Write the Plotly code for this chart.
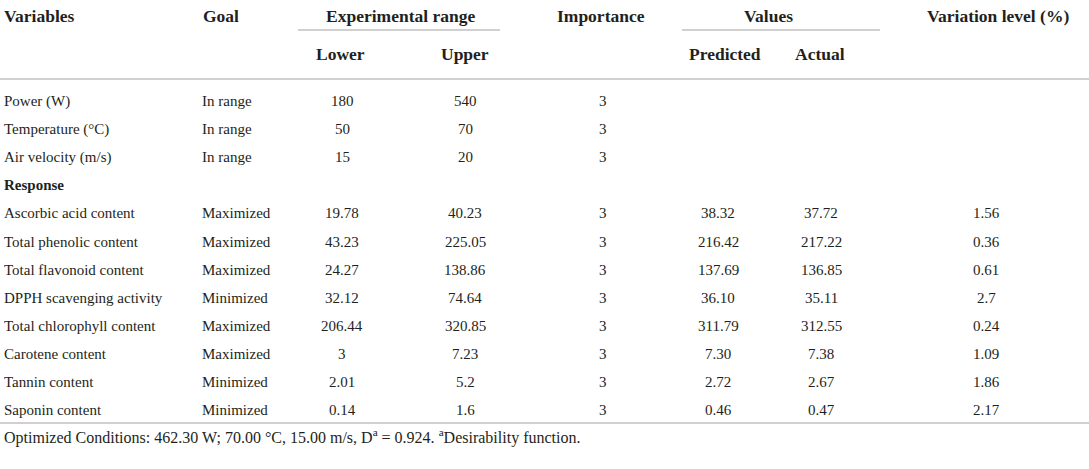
import plotly.graph_objects as go

W, H = 1089, 469

variables = [
    "Power (W)", "Temperature (°C)", "Air velocity (m/s)", "Response",
    "Ascorbic acid content", "Total phenolic content", "Total flavonoid content",
    "DPPH scavenging activity", "Total chlorophyll content", "Carotene content",
    "Tannin content", "Saponin content",
]
goals = [
    "In range", "In range", "In range", "",
    "Maximized", "Maximized", "Maximized", "Minimized",
    "Maximized", "Maximized", "Minimized", "Minimized",
]
lower = ["180", "50", "15", "", "19.78", "43.23", "24.27", "32.12",
         "206.44", "3", "2.01", "0.14"]
upper = ["540", "70", "20", "", "40.23", "225.05", "138.86", "74.64",
         "320.85", "7.23", "5.2", "1.6"]
importance = ["3", "3", "3", "", "3", "3", "3", "3", "3", "3", "3", "3"]
predicted = ["", "", "", "", "38.32", "216.42", "137.69", "36.10",
             "311.79", "7.30", "2.72", "0.46"]
actual = ["", "", "", "", "37.72", "217.22", "136.85", "35.11",
          "312.55", "7.38", "2.67", "0.47"]
variation = ["", "", "", "", "1.56", "0.36", "0.61", "2.7",
             "0.24", "1.09", "1.86", "2.17"]

footer = ("Optimized Conditions: 462.30 W; 70.00 °C, 15.00 m/s, "
          "D<sup>a</sup> = 0.924. <sup>a</sup>Desirability function.")

TEXT = "#231f20"
LINE = "#d0d0d0"
SERIF = "Liberation Serif, Times New Roman, serif"
BODY = dict(family=SERIF, size=15, color=TEXT)
HEAD = dict(family=SERIF, size=17.5, color=TEXT)

# column anchors: (values, x, xanchor)
columns = [
    (variables, 2, "left"),
    (goals, 200, "left"),
    (lower, 342, "center"),
    (upper, 465, "center"),
    (importance, 603, "center"),
    (predicted, 718, "center"),
    (actual, 821, "center"),
    (variation, 986, "center"),
]

row_y0, row_step = 101, 28.1

fig = go.Figure()
ann = []

for values, x, anchor in columns:
    for i, v in enumerate(values):
        if not v:
            continue
        bold = values is variables and v == "Response"
        ann.append(dict(
            x=x, y=row_y0 + i * row_step, text=f"<b>{v}</b>" if bold else v,
            xanchor=anchor, yanchor="middle", showarrow=False, font=BODY,
        ))

headers_top = [
    ("Variables", 2, "left"),
    ("Goal", 201, "left"),
    ("Experimental range", 400, "center"),
    ("Importance", 601, "center"),
    ("Values", 768, "center"),
    ("Variation level (%)", 998, "center"),
]
headers_sub = [
    ("Lower", 340, "center"),
    ("Upper", 465, "center"),
    ("Predicted", 725, "center"),
    ("Actual", 820, "center"),
]
for txt, x, anchor in headers_top:
    ann.append(dict(x=x, y=16, text=f"<b>{txt}</b>", xanchor=anchor,
                    yanchor="middle", showarrow=False, font=HEAD))
for txt, x, anchor in headers_sub:
    ann.append(dict(x=x, y=54, text=f"<b>{txt}</b>", xanchor=anchor,
                    yanchor="middle", showarrow=False, font=HEAD))

ann.append(dict(x=2, y=436, text=footer, xanchor="left", yanchor="middle",
                showarrow=False, font=dict(BODY, size=16)))

shapes = [
    dict(type="line", x0=298, x1=500, y0=30, y1=30, line=dict(color=LINE, width=2)),
    dict(type="line", x0=682, x1=880, y0=30, y1=30, line=dict(color=LINE, width=2)),
    dict(type="line", x0=0, x1=W, y0=79, y1=79, line=dict(color=LINE, width=2)),
    dict(type="line", x0=0, x1=W, y0=423, y1=423, line=dict(color=LINE, width=2)),
]

fig.update_layout(
    width=W, height=H,
    margin=dict(l=0, r=0, t=0, b=0),
    paper_bgcolor="white", plot_bgcolor="white",
    xaxis=dict(range=[0, W], visible=False, fixedrange=True),
    yaxis=dict(range=[H, 0], visible=False, fixedrange=True),
    annotations=ann, shapes=shapes, showlegend=False,
)

fig.write_html(
    "out.html",
    config={"displayModeBar": False},
    post_script="document.body.style.margin='0';document.body.style.overflow='hidden';",
)
